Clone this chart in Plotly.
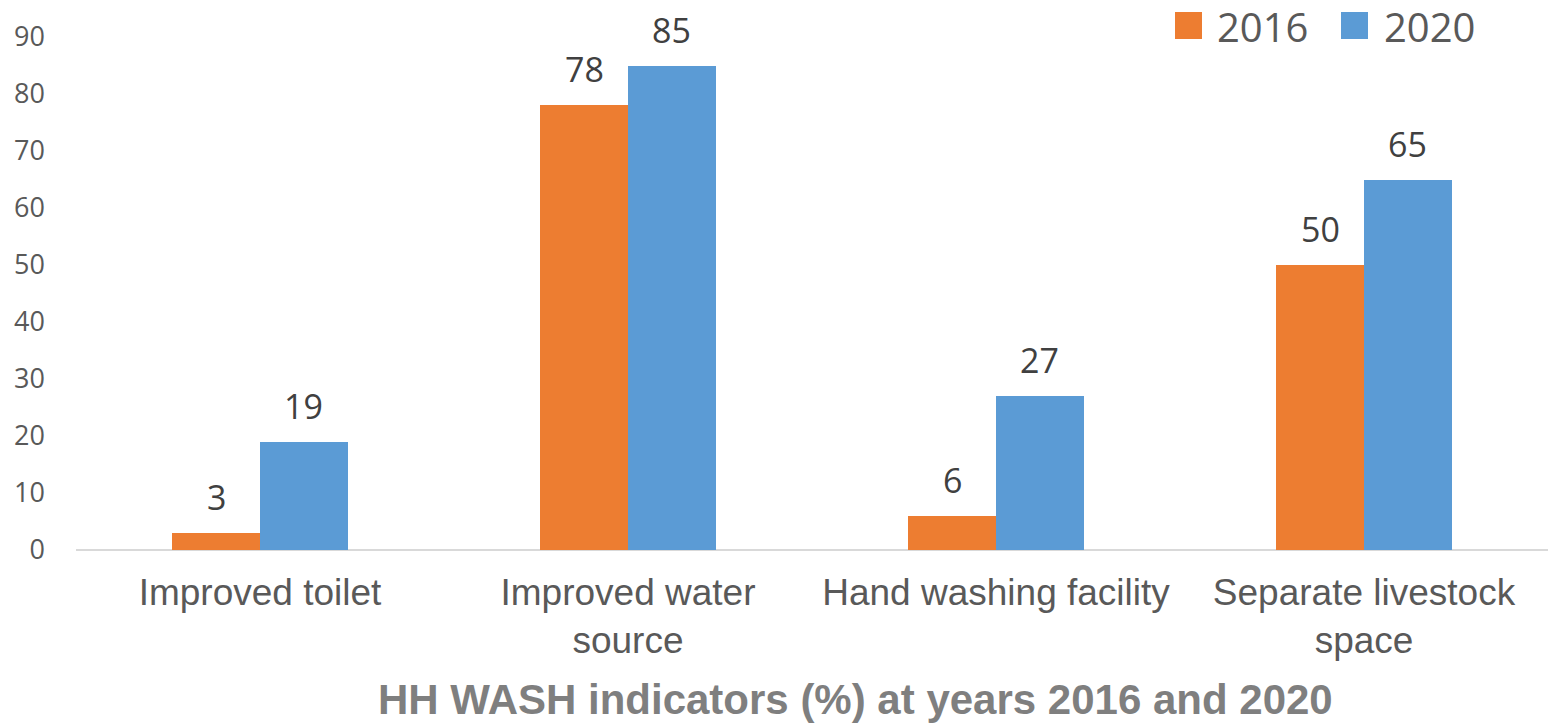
import plotly.graph_objects as go

categories = ["Improved toilet", "Improved water<br>source", "Hand washing facility", "Separate livestock<br>space"]
series_names = ["2016", "2020"]
values_2016 = [3, 78, 6, 50]
values_2020 = [19, 85, 27, 65]
y_ticks = [0, 10, 20, 30, 40, 50, 60, 70, 80, 90]
title_text = "HH WASH indicators (%) at years 2016 and 2020"

colors = ["#ED7D31", "#5B9BD5"]
W, H = 1548, 723
L, R, T, B = 76, 0, 37, 173
bw = 0.239
xs = list(range(len(categories)))

fig = go.Figure()
for vals, name, col, off in [(values_2016, series_names[0], colors[0], -bw), (values_2020, series_names[1], colors[1], 0.0)]:
    fig.add_trace(go.Bar(x=xs, y=vals, name=name, marker=dict(color=col, line=dict(width=0)),
                         width=bw, offset=off, showlegend=False))
    for xi, v in zip(xs, vals):
        fig.add_annotation(x=xi + off + bw / 2, y=v, xref="x", yref="y", text=str(v), showarrow=False,
                           yanchor="bottom", yshift=11,
                           font=dict(family="Open Sans", size=34, color="#404040"))

pw = W - L - R
ph = H - T - B
def px(x):
    return (x - L) / pw
def py(y):
    return (H - B - y) / ph

# legend
leg = [(1175, series_names[0], colors[0], 1215), (1341, series_names[1], colors[1], 1382)]
for x0, name, col, tx in leg:
    fig.add_shape(type="rect", xref="paper", yref="paper", x0=px(x0), x1=px(x0 + 27), y0=py(39), y1=py(12),
                  fillcolor=col, line=dict(width=0))
    fig.add_annotation(xref="paper", yref="paper", x=px(tx), y=py(26), xanchor="left", yanchor="middle",
                       text=name, showarrow=False, font=dict(family="Open Sans", size=40, color="#595959"))

fig.add_annotation(xref="paper", yref="paper", x=px(855), y=py(700), xanchor="center", yanchor="middle",
                   text="<b>" + title_text + "</b>", showarrow=False,
                   font=dict(family="Liberation Sans, Arial", size=42, color="#7F7F7F"))

fig.update_layout(
    width=W, height=H, margin=dict(l=L, r=R, t=T, b=B, pad=0),
    paper_bgcolor="white", plot_bgcolor="white", bargap=0,
    xaxis=dict(range=[-0.5, len(categories) - 0.5], tickmode="array", tickvals=xs, ticktext=categories,
               showgrid=False, zeroline=False, showline=False, ticks="", ticklabelstandoff=17,
               tickfont=dict(family="Liberation Sans, Arial", size=37, color="#595959")),
    yaxis=dict(range=[0, 90], tickmode="array", tickvals=y_ticks, showgrid=False, zeroline=True,
               zerolinecolor="#D9D9D9", zerolinewidth=2, showline=False, ticks="", ticklabelstandoff=30,
               tickfont=dict(family="Open Sans", size=27, color="#595959")),
)
fig.write_html("out.html")
